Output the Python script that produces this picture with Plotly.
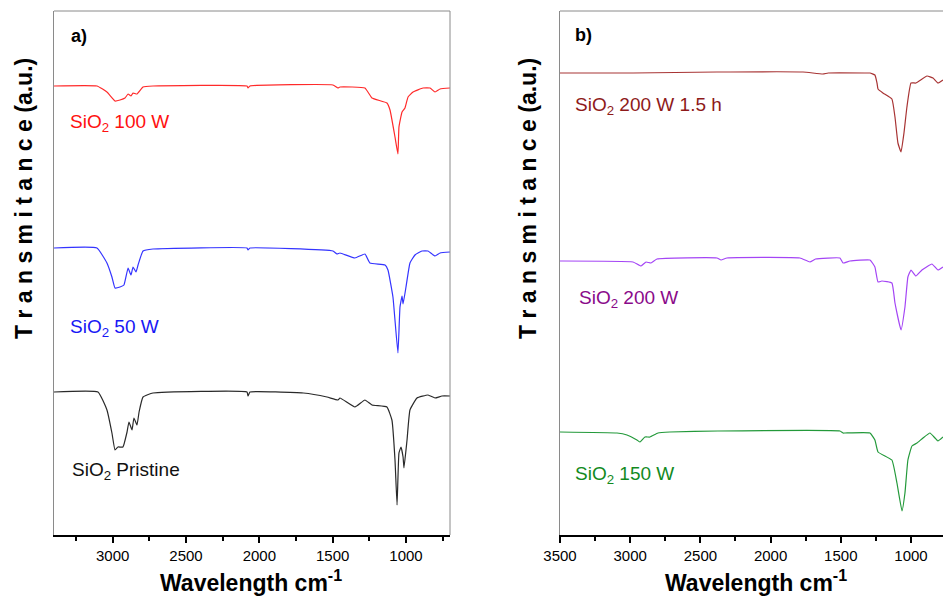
import plotly.graph_objects as go

# ---------------- data (wavenumber cm-1, transmittance a.u.) ----------------
# Panel a
wn_100w = [3400, 3107, 3039, 2984, 2950, 2916, 2895, 2875, 2861, 2834, 2793, 2725, 2084, 2077, 2064, 1498, 1464, 1450, 1280, 1232,
           1130, 1109, 1075, 1055, 1048, 1027, 1007, 986, 952, 884, 836, 802, 768, 700]
t_100w = [449, 449, 443, 434, 435, 437, 441, 439, 442, 441, 448, 449, 449, 447, 449, 450, 447, 448, 447, 437,
          432, 425, 398, 381, 408, 423, 427, 438, 443, 447, 447, 443, 446, 447]

wn_50w = [3400, 3107, 3039, 3005, 2984, 2950, 2923, 2895, 2875, 2861, 2841, 2827, 2793, 2725, 2084, 2077, 2064, 1498, 1471, 1450,
          1348, 1280, 1246, 1143, 1123, 1089, 1055, 1041, 1027, 1020, 1000, 973, 939, 891, 850, 802, 768, 700]
t_50w = [287, 287, 272, 258, 247, 248, 250, 267, 260, 268, 263, 270, 284, 286, 287, 285, 287, 284, 281, 282,
         277, 281, 272, 270, 265, 238, 182, 228, 239, 231, 248, 272, 280, 284, 284, 279, 282, 283]

wn_pristine = [3400, 3100, 3039, 3005, 2984, 2964, 2930, 2902, 2889, 2868, 2855, 2834, 2820, 2793, 2725, 2084, 2077, 2064, 1700, 1539,
               1464, 1450, 1348, 1280, 1232, 1130, 1096, 1075, 1061, 1048, 1034, 1020, 1014, 993, 973, 925, 850, 802, 755, 700]
t_pristine = [143, 143, 125, 102, 85, 88, 88, 103, 113, 105, 117, 110, 123, 138, 142, 143, 139, 143, 142, 138,
              135, 137, 128, 135, 130, 128, 115, 75, 30, 82, 88, 78, 67, 95, 125, 137, 140, 137, 139, 139]

# Panel b
wn_200w15h = [3500, 2980, 2382, 1769, 1627, 1590, 1306, 1292, 1257, 1242, 1235, 1200, 1136, 1114, 1093, 1071, 1050, 1029, 1000, 965,
              886, 843, 808, 772]
t_200w15h = [462, 462, 463, 463, 461, 462, 462, 462, 460, 452, 446, 442, 436, 418, 392, 383, 402, 428, 452, 452,
             459, 457, 452, 455]

wn_200w = [3500, 2980, 2923, 2887, 2852, 2809, 2382, 2353, 2311, 1791, 1720, 1680, 1506, 1484, 1435, 1292, 1257, 1235, 1207, 1136,
           1114, 1071, 1043, 1022, 1000, 965, 922, 851, 808, 772]
t_200w = [274, 273, 269, 273, 272, 276, 277, 275, 277, 277, 273, 276, 277, 272, 274, 275, 268, 253, 254, 252,
          232, 205, 228, 258, 265, 259, 265, 271, 265, 268]

wn_150w = [3500, 3094, 3023, 2952, 2930, 2895, 2859, 2802, 2717, 2375, 1506, 1484, 1470, 1292, 1257, 1235, 1136, 1100, 1064, 1043,
           1022, 993, 957, 915, 865, 829, 808, 772]
t_150w = [103, 102, 100, 95, 93, 98, 98, 102, 103, 104, 104, 102, 102, 102, 95, 83, 75, 52, 24, 42,
          75, 89, 92, 97, 102, 97, 94, 98]

tick_vals = [3500, 3000, 2500, 2000, 1500, 1000]
tick_text = ["3500", "3000", "2500", "2000", "1500", "1000"]

# ---------------- figure ----------------
W, H = 943, 596
FONT = "Liberation Sans, Arial, sans-serif"


def px(x):
    return x / W


def py(y):
    return (H - y) / H


fig = go.Figure()

series = [
    (wn_100w, t_100w, "#FF2A2A", "x", "y"),
    (wn_50w, t_50w, "#3434FF", "x", "y"),
    (wn_pristine, t_pristine, "#2a2a2a", "x", "y"),
    (wn_200w15h, t_200w15h, "#A83434", "x2", "y2"),
    (wn_200w, t_200w, "#A445F5", "x2", "y2"),
    (wn_150w, t_150w, "#23993A", "x2", "y2"),
]
for xs, ys, col, xa, ya in series:
    fig.add_trace(go.Scatter(x=xs, y=ys, mode="lines", xaxis=xa, yaxis=ya,
                             line=dict(color=col, width=1.2, shape="spline", smoothing=0.35),
                             showlegend=False, hoverinfo="skip"))

ydom = [py(535), py(11)]
xa_common = dict(
    showline=True, linecolor="black", linewidth=2,
    ticks="outside", ticklen=6, tickwidth=1.5, tickcolor="black",
    tickvals=tick_vals, ticktext=tick_text,
    tickfont=dict(family=FONT, size=15, color="black"),
    minor=dict(dtick=250, tick0=0, ticks="outside", ticklen=4, tickwidth=1.5, tickcolor="black"),
    showgrid=False, zeroline=False, automargin=False,
)
ya_common = dict(
    showline=True, linecolor="#8a8a8a", linewidth=1, showticklabels=False, ticks="",
    showgrid=False, zeroline=False, range=[0, 524], domain=ydom, automargin=False,
)

fig.update_layout(
    width=W, height=H, autosize=False,
    margin=dict(l=0, r=0, t=0, b=0, pad=0, autoexpand=False),
    paper_bgcolor="white", plot_bgcolor="white",
    xaxis=dict(**xa_common, anchor="y", domain=[px(54), px(450)], range=[3400, 700]),
    yaxis=dict(**ya_common, anchor="x"),
    xaxis2=dict(**xa_common, anchor="y2", domain=[px(560), 1.0], range=[3500, 772]),
    yaxis2=dict(**ya_common, anchor="x2"),
    font=dict(family=FONT),
)

# frame: top borders and right border of panel a
fig.add_shape(type="line", xref="x domain", yref="y domain", x0=0, x1=1, y0=1, y1=1,
              line=dict(color="#8a8a8a", width=1))
fig.add_shape(type="line", xref="x domain", yref="y domain", x0=1, x1=1, y0=0, y1=1,
              line=dict(color="#8a8a8a", width=1))
fig.add_shape(type="line", xref="x2 domain", yref="y2 domain", x0=0, x1=1, y0=1, y1=1,
              line=dict(color="#8a8a8a", width=1))

ann = []
# axis titles
for cx in (24, 528):
    ann.append(dict(x=px(cx), y=py(199), xref="paper", yref="paper", xanchor="center", yanchor="middle",
                    text="<b>T r a n s m i t a n c e (a.u.)</b>", textangle=-90, showarrow=False,
                    font=dict(family=FONT, size=23, color="black")))
for cx in (251, 756):
    ann.append(dict(x=px(cx), y=py(581), xref="paper", yref="paper", xanchor="center", yanchor="middle",
                    text="<b>Wavelength cm<sup>-1</sup></b>", showarrow=False,
                    font=dict(family=FONT, size=23, color="black")))
# panel letters
ann.append(dict(x=px(69), y=py(36), xref="paper", yref="paper", xanchor="left", yanchor="middle",
                text="<b>a)</b>", showarrow=False, font=dict(family=FONT, size=18, color="black")))
ann.append(dict(x=px(573), y=py(35), xref="paper", yref="paper", xanchor="left", yanchor="middle",
                text="<b>b)</b>", showarrow=False, font=dict(family=FONT, size=18, color="black")))

labels = [
    ("SiO<sub>2</sub> 100 W", 68, 123, "#FF1010"),
    ("SiO<sub>2</sub> 50 W", 68, 328, "#1818F5"),
    ("SiO<sub>2</sub> Pristine", 70, 471, "#111111"),
    ("SiO<sub>2</sub> 200 W 1.5 h", 573, 106, "#8E1A1A"),
    ("SiO<sub>2</sub> 200 W", 577, 299, "#8A0A8A"),
    ("SiO<sub>2</sub> 150 W", 573, 475, "#128A1E"),
]
for txt, x0, y0, col in labels:
    ann.append(dict(x=px(x0), y=py(y0), xref="paper", yref="paper", xanchor="left", yanchor="middle",
                    text=txt, showarrow=False, font=dict(family=FONT, size=19, color=col)))

fig.update_layout(annotations=ann)

fig.write_html(
    "out.html",
    config={"responsive": False, "displayModeBar": False},
    post_script="document.body.style.margin='0';document.body.style.padding='0';"
                "document.documentElement.style.overflow='hidden';document.body.style.overflow='hidden';",
)
